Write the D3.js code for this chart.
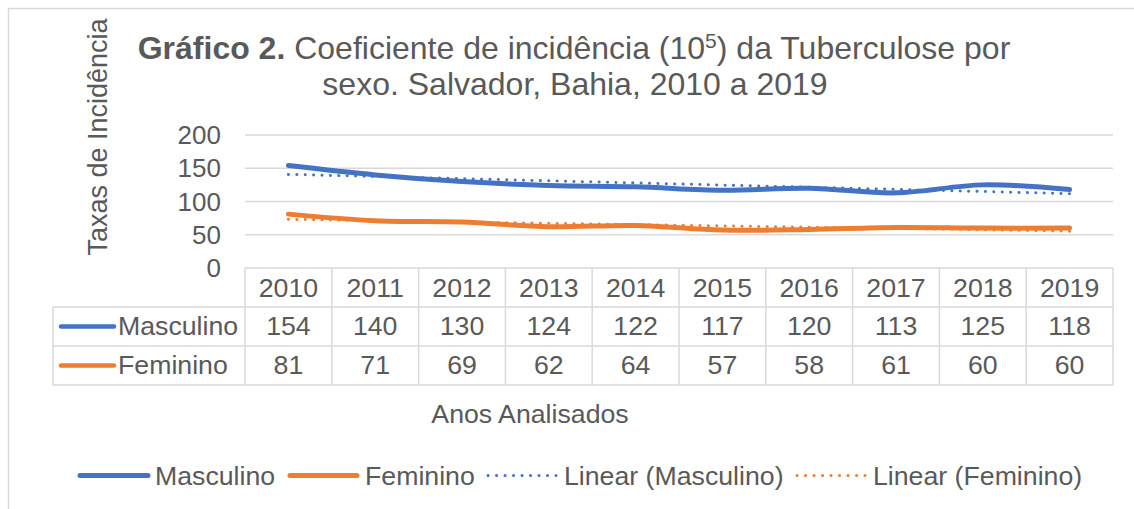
<!DOCTYPE html>
<html>
<head>
<meta charset="utf-8">
<script src="https://cdn.jsdelivr.net/npm/d3@7"></script>
<style>
  body { margin: 0; background: #fff; }
  svg text { font-family: "Liberation Sans", Arial, sans-serif; fill: #595959; }
</style>
</head>
<body>
<svg class="main"></svg>
<script>
// data
const years = ['2010','2011','2012','2013','2014','2015','2016','2017','2018','2019'];
const masculino = [154,140,130,124,122,117,120,113,125,118];
const feminino = [81,71,69,62,64,57,58,61,60,60];
const yTicks = [0,50,100,150,200];
const seriesNames = ['Masculino','Feminino'];
const colors = ['#4472C4','#ED7D31'];

let w = 1134, h = 509;
let plotLeft = 245, plotRight = 1113, plotTop = 135, plotBottom = 268;
let rowH = 39;
let fs = '26.7px';

let svg = d3.select('.main').attr('width', w).attr('height', h);

// chart border (cropped at right/bottom)
svg.append('rect')
  .attr('x', 8.5).attr('y', 8.5)
  .attr('width', 1140).attr('height', 520)
  .attr('fill', 'none').attr('stroke', '#d9d9d9').attr('stroke-width', 1.5);

let x = d3.scaleBand().domain(years).range([plotLeft, plotRight]);
let y = d3.scaleLinear().domain([0, 200]).range([plotBottom, plotTop]);

// gridlines
svg.append('g').selectAll('line')
  .data(yTicks.filter(d => d > 0))
  .enter().append('line')
  .attr('x1', plotLeft).attr('x2', plotRight)
  .attr('y1', d => y(d)).attr('y2', d => y(d))
  .attr('stroke', '#d9d9d9').attr('stroke-width', 1.3);

// y tick labels
svg.append('g').selectAll('text')
  .data(yTicks)
  .enter().append('text')
  .attr('x', 221).attr('y', d => y(d) + 9)
  .attr('text-anchor', 'end')
  .style('font-size', '26px')
  .text(d => d);

// y title
svg.append('text')
  .attr('transform', 'translate(107,137) rotate(-90)')
  .attr('text-anchor', 'middle')
  .style('font-size', '27px')
  .text('Taxas de Incidência');

// title
let title = svg.append('text').attr('text-anchor', 'middle').style('font-size', '32px');
title.append('tspan').attr('x', 574).attr('y', 59).style('font-weight', 'bold').text('Gráfico 2.');
title.append('tspan').text(' Coeficiente de incidência (10');
title.append('tspan').attr('dy', -11).style('font-size', '21px').text('5');
title.append('tspan').attr('dy', 11).text(') da Tuberculose por');
svg.append('text').attr('text-anchor', 'middle').style('font-size', '32px')
  .attr('x', 575).attr('y', 95).text('sexo. Salvador, Bahia, 2010 a 2019');

// data table
let tg = svg.append('g').attr('stroke', '#d9d9d9').attr('stroke-width', 1.5);
let tLeft = 53;
tg.append('line').attr('x1', plotLeft).attr('x2', plotRight).attr('y1', plotBottom).attr('y2', plotBottom);
[1, 2, 3].forEach(i => {
  tg.append('line').attr('x1', tLeft).attr('x2', plotRight)
    .attr('y1', plotBottom + rowH * i).attr('y2', plotBottom + rowH * i);
});
years.forEach(yr => {
  tg.append('line').attr('x1', x(yr)).attr('x2', x(yr)).attr('y1', plotBottom).attr('y2', plotBottom + rowH * 3);
});
tg.append('line').attr('x1', plotRight).attr('x2', plotRight).attr('y1', plotBottom).attr('y2', plotBottom + rowH * 3);
tg.append('line').attr('x1', tLeft).attr('x2', tLeft).attr('y1', plotBottom + rowH).attr('y2', plotBottom + rowH * 3);

svg.append('g').selectAll('text')
  .data(years).enter().append('text')
  .attr('x', d => x(d) + x.bandwidth() / 2).attr('y', plotBottom + rowH / 2 + 9)
  .attr('text-anchor', 'middle').style('font-size', fs)
  .text(d => d);

[masculino, feminino].forEach((vals, si) => {
  let cy = plotBottom + rowH * (si + 1) + rowH / 2;
  svg.append('line').attr('x1', 61).attr('x2', 114).attr('y1', cy).attr('y2', cy)
    .attr('stroke', colors[si]).attr('stroke-width', 4.5).attr('stroke-linecap', 'round');
  svg.append('text').attr('x', 118).attr('y', cy + 8.5).style('font-size', fs).text(seriesNames[si]);
  svg.append('g').selectAll('text')
    .data(vals).enter().append('text')
    .attr('x', (d, i) => x(years[i]) + x.bandwidth() / 2).attr('y', cy + 8.5)
    .attr('text-anchor', 'middle').style('font-size', fs)
    .text(d => d);
});

// x title
svg.append('text').attr('x', 530).attr('y', 423).attr('text-anchor', 'middle')
  .style('font-size', fs).text('Anos Analisados');

// trend lines (linear fit like Excel)
let fit = vals => {
  let n = vals.length, xs = d3.range(n);
  let mx = d3.mean(xs), my = d3.mean(vals);
  let b = d3.sum(xs, i => (i - mx) * (vals[i] - my)) / d3.sum(xs, i => (i - mx) * (i - mx));
  let a = my - b * mx;
  return [a, a + b * (n - 1)];
};
let cx = yr => x(yr) + x.bandwidth() / 2;

[masculino, feminino].forEach((vals, si) => {
  let line = d3.line()
    .x((d, i) => cx(years[i]))
    .y(d => y(d))
    .curve(d3.curveCatmullRom.alpha(0.5));
  svg.append('path').datum(vals)
    .attr('d', line)
    .attr('fill', 'none').attr('stroke', colors[si]).attr('stroke-width', 5)
    .attr('stroke-linecap', 'round').attr('stroke-linejoin', 'round');
});

[masculino, feminino].forEach((vals, si) => {
  let ends = fit(vals);
  svg.append('line')
    .attr('x1', cx(years[0])).attr('x2', cx(years[years.length - 1]))
    .attr('y1', y(ends[0])).attr('y2', y(ends[1]))
    .attr('stroke', colors[si]).attr('stroke-width', 3)
    .attr('stroke-dasharray', '0.1 8.3').attr('stroke-linecap', 'round');
});

// legend
let legendItems = [
  {name: 'Masculino', color: colors[0], dotted: false, x1: 80, x2: 148, tx: 155},
  {name: 'Feminino', color: colors[1], dotted: false, x1: 290, x2: 357, tx: 365},
  {name: 'Linear (Masculino)', color: colors[0], dotted: true, x1: 488, x2: 556, tx: 564},
  {name: 'Linear (Feminino)', color: colors[1], dotted: true, x1: 797, x2: 865, tx: 873}
];
let ly = 475.5;
legendItems.forEach(d => {
  svg.append('line').attr('x1', d.x1).attr('x2', d.x2).attr('y1', ly).attr('y2', ly)
    .attr('stroke', d.color).attr('stroke-width', d.dotted ? 3 : 5)
    .attr('stroke-linecap', 'round')
    .attr('stroke-dasharray', d.dotted ? '0.1 8.4' : null);
  svg.append('text').attr('x', d.tx).attr('y', ly + 9).style('font-size', fs).text(d.name);
});
</script>
</body>
</html>
